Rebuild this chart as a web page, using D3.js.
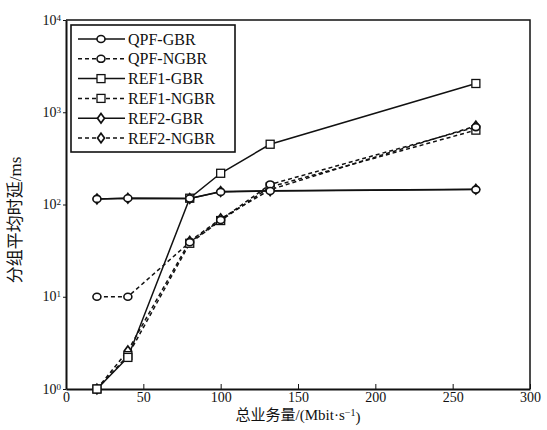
<!DOCTYPE html>
<meta charset="utf-8">
<style>
    body { margin: 0; background: #fff; }
    text { font-family: "Liberation Serif", "Times New Roman", serif; fill: #111; }
    .cjk { font-family: "Noto Sans CJK SC", sans-serif; }
    .domain { stroke: #111; stroke-width: 2; }
    .tick line { stroke: #111; }
</style>
<svg width="547" height="430"></svg>
<script src="https://d3js.org/d3.v7.min.js"></script>
<script>

    var traffic = [20, 40, 80, 100, 132, 265];
    var qpfGbr = [115, 117, 116, 137, 140, 145];
    var qpfNgbr = [10, 10, 39, 68, 165, 690];
    var ref1Gbr = [1, 2.2, 117, 218, 450, 2050];
    var ref1Ngbr = [1, 2.3, 38, 67, 155, 640];
    var ref2Gbr = [115, 117, 116, 138, 141, 146];
    var ref2Ngbr = [1, 2.6, 40, 70, 145, 710];
    var xTicks = [0, 50, 100, 150, 200, 250, 300];
    var yTicks = [1, 10, 100, 1000, 10000];

    var series = [
        {name: "QPF-GBR", values: qpfGbr, marker: "circle", dash: null},
        {name: "QPF-NGBR", values: qpfNgbr, marker: "circle", dash: "4,3"},
        {name: "REF1-GBR", values: ref1Gbr, marker: "square", dash: null},
        {name: "REF1-NGBR", values: ref1Ngbr, marker: "square", dash: "4,3"},
        {name: "REF2-GBR", values: ref2Gbr, marker: "diamond", dash: null},
        {name: "REF2-NGBR", values: ref2Ngbr, marker: "diamond", dash: "4,3"}
    ];

    var svg = d3.select("svg");
    var plotLeft = 66, plotRight = 530, plotTop = 20, plotBottom = 389;

    var x = d3.scaleLinear().domain([0, 300]).range([plotLeft, plotRight]);
    var y = d3.scaleLog().domain([1, 10000]).range([plotBottom, plotTop]);

    // frame (top and right)
    svg.append("path")
        .attr("d", "M" + plotLeft + "," + plotTop + "H" + plotRight + "V" + plotBottom)
        .attr("fill", "none").attr("stroke", "#111").attr("stroke-width", 1.5);

    var xAxis = svg.append("g")
        .attr("transform", "translate(0," + plotBottom + ")")
        .call(d3.axisBottom(x).tickValues(xTicks).tickSizeInner(-5).tickSizeOuter(0).tickPadding(4));
    xAxis.selectAll("text").style("font-size", "14px").attr("y", 3);

    var yAxis = svg.append("g")
        .attr("transform", "translate(" + plotLeft + ",0)")
        .call(d3.axisLeft(y).tickValues(yTicks).tickSizeInner(3).tickSizeOuter(0).tickFormat(""));
    yAxis.selectAll(".tick").append("text")
        .attr("x", -5).attr("dy", "0.3em")
        .attr("text-anchor", "end")
        .style("font-size", "14px")
        .each(function(d) {
            var t = d3.select(this);
            t.append("tspan").text("10");
            t.append("tspan").attr("dy", "-0.45em").style("font-size", "9px")
                .text(Math.round(Math.log10(d)));
        });

    var line = d3.line()
        .x(function(d, i) { return x(traffic[i]); })
        .y(function(d) { return y(d); });

    function drawMarker(g, type, cx, cy) {
        if (type === "circle") {
            g.append("ellipse").attr("cx", cx).attr("cy", cy).attr("rx", 4).attr("ry", 3.5)
                .attr("fill", "#fff").attr("stroke", "#111").attr("stroke-width", 1.6);
        } else if (type === "square") {
            g.append("rect").attr("x", cx - 4).attr("y", cy - 4).attr("width", 8).attr("height", 8)
                .attr("fill", "#fff").attr("stroke", "#111").attr("stroke-width", 1.3);
        } else {
            g.append("path")
                .attr("d", "M" + cx + "," + (cy - 4.8) + "L" + (cx + 3.5) + "," + cy + "L" + cx + "," + (cy + 4.8) + "L" + (cx - 3.5) + "," + cy + "Z")
                .attr("fill", "#fff").attr("stroke", "#111").attr("stroke-width", 1.7);
        }
    }

    series.forEach(function(s) {
        svg.append("path")
            .datum(s.values)
            .attr("d", line)
            .attr("fill", "none")
            .attr("stroke", "#111")
            .attr("stroke-width", 1.5)
            .attr("stroke-dasharray", s.dash);
    });
    // markers, drawn last-to-first so QPF marks sit on top
    series.slice().reverse().forEach(function(s) {
        var g = svg.append("g");
        s.values.forEach(function(v, i) { drawMarker(g, s.marker, x(traffic[i]), y(v)); });
    });

    // legend
    var legend = svg.append("g").attr("transform", "translate(71,25)");
    legend.append("rect").attr("width", 164).attr("height", 127)
        .attr("fill", "#fff").attr("stroke", "#111").attr("stroke-width", 1.6);
    series.forEach(function(s, i) {
        var ly = 14 + i * 19.8;
        legend.append("line")
            .attr("x1", 7).attr("x2", 54).attr("y1", ly).attr("y2", ly)
            .attr("stroke", "#111").attr("stroke-width", 1.5)
            .attr("stroke-dasharray", s.dash);
        drawMarker(legend, s.marker, 30, ly);
        legend.append("text")
            .attr("x", 57).attr("y", ly).attr("dy", "0.35em")
            .style("font-size", "16px")
            .text(s.name);
    });

    // axis titles
    svg.append("text")
        .attr("x", 298).attr("y", 420)
        .attr("text-anchor", "middle")
        .style("font-size", "15px")
        .call(function(t) {
            t.append("tspan").attr("class", "cjk").text("总业务量");
            t.append("tspan").text("/(Mbit·s");
            t.append("tspan").attr("dy", "-0.45em").style("font-size", "10px").text("−1");
            t.append("tspan").attr("dy", "0.45em").text(")");
        });

    svg.append("text")
        .attr("transform", "translate(21,220) rotate(-90)")
        .attr("text-anchor", "middle")
        .style("font-size", "17px")
        .call(function(t) {
            t.append("tspan").attr("class", "cjk").text("分组平均时延");
            t.append("tspan").text("/ms");
        });

</script>
